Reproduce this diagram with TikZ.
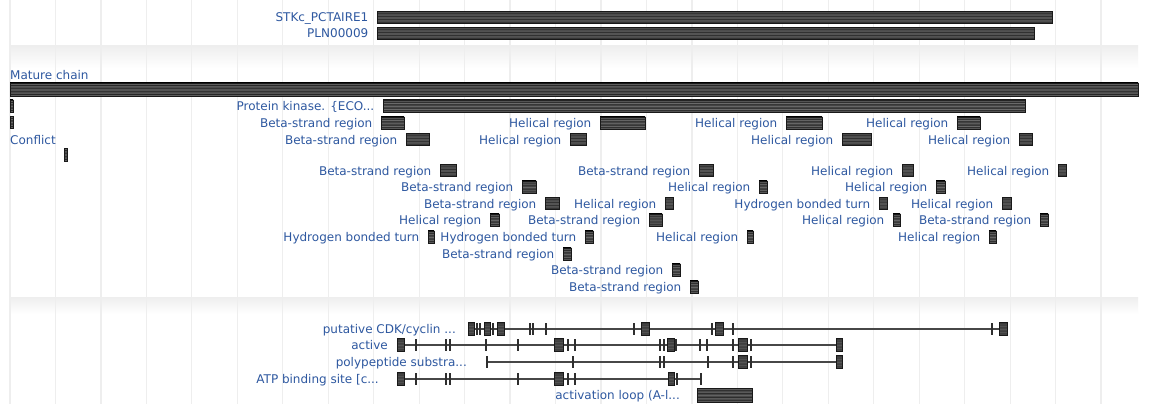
\documentclass[tikz,border=0pt]{standalone}
\usepackage{fontspec}
\setmainfont{DejaVu Sans}
\definecolor{labelblue}{RGB}{46,88,160}
\definecolor{gridgray}{RGB}{238,238,238}
% striped dark fill used for every feature bar
\pgfdeclareverticalshading{featbar}{100bp}{%
  color(0bp)=(black!92); color(25bp)=(black!92); color(29bp)=(black!62);
  color(33bp)=(black!86); color(38bp)=(black!58); color(43bp)=(black!84);
  color(50bp)=(black!60); color(57bp)=(black!84); color(62bp)=(black!58);
  color(67bp)=(black!86); color(71bp)=(black!62); color(75bp)=(black!92);
  color(100bp)=(black!92)}
\newcounter{lbl}
% feature bar with its label to the left: label, x from, x to, row centre
\newcommand\featbox[4]{%
  \shade[barfill] (#2,#4-6.2) rectangle (#3,#4+6.2);
  \stepcounter{lbl}%
  \node[lab] (lab\arabic{lbl}) at ({#2-8.5},{#4+4.5}) {#1};}
% label of a site track: text, right end, row centre
\newcommand\tracklabel[3]{%
  \stepcounter{lbl}%
  \node[lab] (lab\arabic{lbl}) at (#2,{#3+4.5}) {#1};}
% site marks on a track
\newcommand\sitetick[2]{\fill[tickmark] ({#1-1},#2-6) rectangle ({#1+1},#2+6);}
\newcommand\siteblock[3]{\shade[barfill] (#1,#3-6.5) rectangle (#2,#3+6.5);}
\begin{document}
\begin{tikzpicture}[x=1pt,y=-1pt,
  barfill/.style={shading=featbar, draw=black!90, line width=0.6pt},
  lab/.style={text=labelblue, font=\fontsize{12}{14}\selectfont, inner sep=0pt, anchor=base east},
  leftlab/.style={lab, anchor=base west},
  tickmark/.style={fill=black!82},
  track/.style={draw=black!72, line width=1.6pt},
  gridline/.style={draw=gridgray, line width=1.2pt},
  band/.style={top color=gray!13, bottom color=white, draw=none}]
\useasboundingbox (0,0) rectangle (1152,404);
\fill[white] (0,0) rectangle (1152,404);

% panel separators
\shade[band] (10,46) rectangle (1138,68);
\shade[band] (10,297) rectangle (1138,314);

% vertical grid
\foreach \i in {0,...,24}
  {\draw[gridline] ({10+45.46*\i},0) -- ({10+45.46*\i},404);}

% ---------- domain hits ----------
\featbox{STKc\_PCTAIRE1}{377}{1052}{17.5}
\featbox{PLN00009}{377}{1034}{33.5}

% ---------- sequence features ----------
\node[leftlab] (mature) at (10,80) {Mature chain};
\shade[barfill] (10,83) rectangle (1138,96);

\shade[barfill] (10,100) rectangle (13,112);
\shade[barfill] (10,116) rectangle (13,128);
\featbox{Protein kinase. \{ECO...}{383}{1025}{106}

\featbox{Beta-strand region}{381}{404}{123}
\featbox{Helical region}{600}{645}{123}
\featbox{Helical region}{786}{822}{123}
\featbox{Helical region}{957}{980}{123}

\node[leftlab] (conflict) at (10,144) {Conflict};
\shade[barfill] (64,148) rectangle (67,161);
\featbox{Beta-strand region}{406}{429}{139.5}
\featbox{Helical region}{570}{586}{139.5}
\featbox{Helical region}{842}{871}{139.5}
\featbox{Helical region}{1019}{1032}{139.5}

\featbox{Beta-strand region}{440}{456}{170.5}
\featbox{Beta-strand region}{699}{713}{170.5}
\featbox{Helical region}{902}{913}{170.5}
\featbox{Helical region}{1058}{1066}{170.5}

\featbox{Beta-strand region}{522}{536}{187}
\featbox{Helical region}{759}{767}{187}
\featbox{Helical region}{936}{945}{187}

\featbox{Beta-strand region}{545}{559}{203.5}
\featbox{Helical region}{665}{673}{203.5}
\featbox{Hydrogen bonded turn}{879}{887}{203.5}
\featbox{Helical region}{1002}{1011}{203.5}

\featbox{Helical region}{490}{499}{220}
\featbox{Beta-strand region}{649}{662}{220}
\featbox{Helical region}{893}{900}{220}
\featbox{Beta-strand region}{1040}{1048}{220}

\featbox{Hydrogen bonded turn}{428}{434}{237}
\featbox{Hydrogen bonded turn}{585}{593}{237}
\featbox{Helical region}{747}{753}{237}
\featbox{Helical region}{989}{996}{237}

\featbox{Beta-strand region}{563}{571}{254}
\featbox{Beta-strand region}{672}{680}{270}
\featbox{Beta-strand region}{690}{698}{287}

% ---------- site annotations ----------
% putative CDK/cyclin site
\tracklabel{putative CDK/cyclin ...}{456}{329}
\draw[track] (468,329) -- (1007,329);
\siteblock{468}{474}{329}\siteblock{484}{490}{329}\siteblock{497}{504}{329}
\foreach \p in {477,480,493,530,533,546,634,712,733,992} {\sitetick{\p}{329}}
\siteblock{641}{649}{329}\siteblock{715}{723}{329}\siteblock{999}{1007}{329}

% active site
\tracklabel{active}{388}{345}
\draw[track] (397,345) -- (842,345);
\siteblock{397}{404}{345}\siteblock{554}{563}{345}\siteblock{667}{674}{345}
\siteblock{738}{747}{345}\siteblock{836}{842}{345}
\foreach \p in {416,446,450,486,518,568,575,660,664,676,700,707,733,751} {\sitetick{\p}{345}}

% polypeptide substrate binding site
\tracklabel{polypeptide substra...}{467}{362}
\draw[track] (487,362) -- (842,362);
\foreach \p in {487,573,660,664,708,733,751} {\sitetick{\p}{362}}
\siteblock{738}{747}{362}\siteblock{836}{842}{362}

% ATP binding site
\tracklabel{ATP binding site [c...}{379}{379}
\draw[track] (397,379) -- (701,379);
\siteblock{397}{404}{379}\siteblock{554}{563}{379}\siteblock{668}{674}{379}
\foreach \p in {416,446,450,518,568,575,677,701} {\sitetick{\p}{379}}

% activation loop
\tracklabel{activation loop (A-l...}{680}{395}
\shade[barfill] (697,388) rectangle (752,402);
\end{tikzpicture}
\end{document}
